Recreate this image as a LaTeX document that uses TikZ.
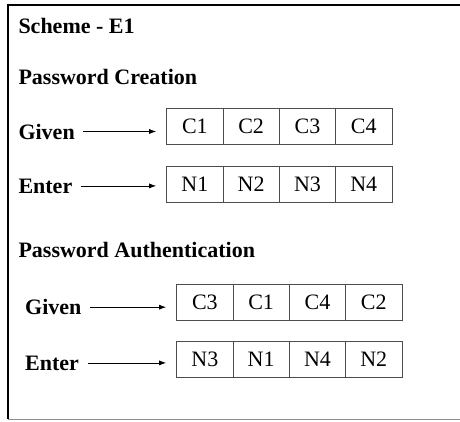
\documentclass[tikz,border=0pt]{standalone}
\usepackage{fontspec}
\setmainfont{Liberation Serif}
\usetikzlibrary{positioning,arrows.meta}
\tikzset{
  cell/.style={draw=black!70,line width=.8pt,minimum width=56.3pt,minimum height=36pt,
    inner sep=0pt,outer sep=0pt,font=\fontsize{22}{26}\selectfont},
  lbl/.style={anchor=base west,inner sep=0pt,font=\fontsize{22}{26}\selectfont\bfseries},
  feed/.style={-{Latex[length=7pt,width=5pt]},line width=.8pt,shorten <=8.5pt,shorten >=10.5pt}
}
\begin{document}
\begin{tikzpicture}[x=1pt,y=-1pt]
  \useasboundingbox (0,0) rectangle (460,421);
  % frame
  \draw[line width=2pt] (460,5) -- (8,5) -- (8,419);
  \draw[black!45,line width=1pt] (8,419) -- (460,419);
  % headings
  \node[lbl] (scheme) at (18.3,33.3) {Scheme - E1};
  \node[lbl] (create) at (18.3,84.3) {Password Creation};
  \node[lbl] (auth) at (18.3,257.3) {Password Authentication};
  % creation
  \node[lbl] (given1) at (18.3,139) {Given};
  \node[lbl] (enter1) at (18.3,193) {Enter};
  \foreach \t [count=\i] in {C1,C2,C3,C4}
    \node[cell] (ca\i) at ({138.55+56.3*\i},126.4) {\t};
  \foreach \t [count=\i] in {N1,N2,N3,N4}
    \node[cell] (na\i) at ({138.55+56.3*\i},184.4) {\t};
  \draw[feed] (given1.east) -- (given1.east -| ca1.west);
  \draw[feed] (enter1.east) -- (enter1.east -| na1.west);
  % authentication
  \node[lbl] (given2) at (25,314.7) {Given};
  \node[lbl] (enter2) at (25,370) {Enter};
  \foreach \t [count=\i] in {C3,C1,C4,C2}
    \node[cell] (cb\i) at ({148.55+56.3*\i},302.6) {\t};
  \foreach \t [count=\i] in {N3,N1,N4,N2}
    \node[cell] (nb\i) at ({148.55+56.3*\i},359.2) {\t};
  \draw[feed] (given2.east) -- (given2.east -| cb1.west);
  \draw[feed] (enter2.east) -- (enter2.east -| nb1.west);
\end{tikzpicture}
\end{document}
